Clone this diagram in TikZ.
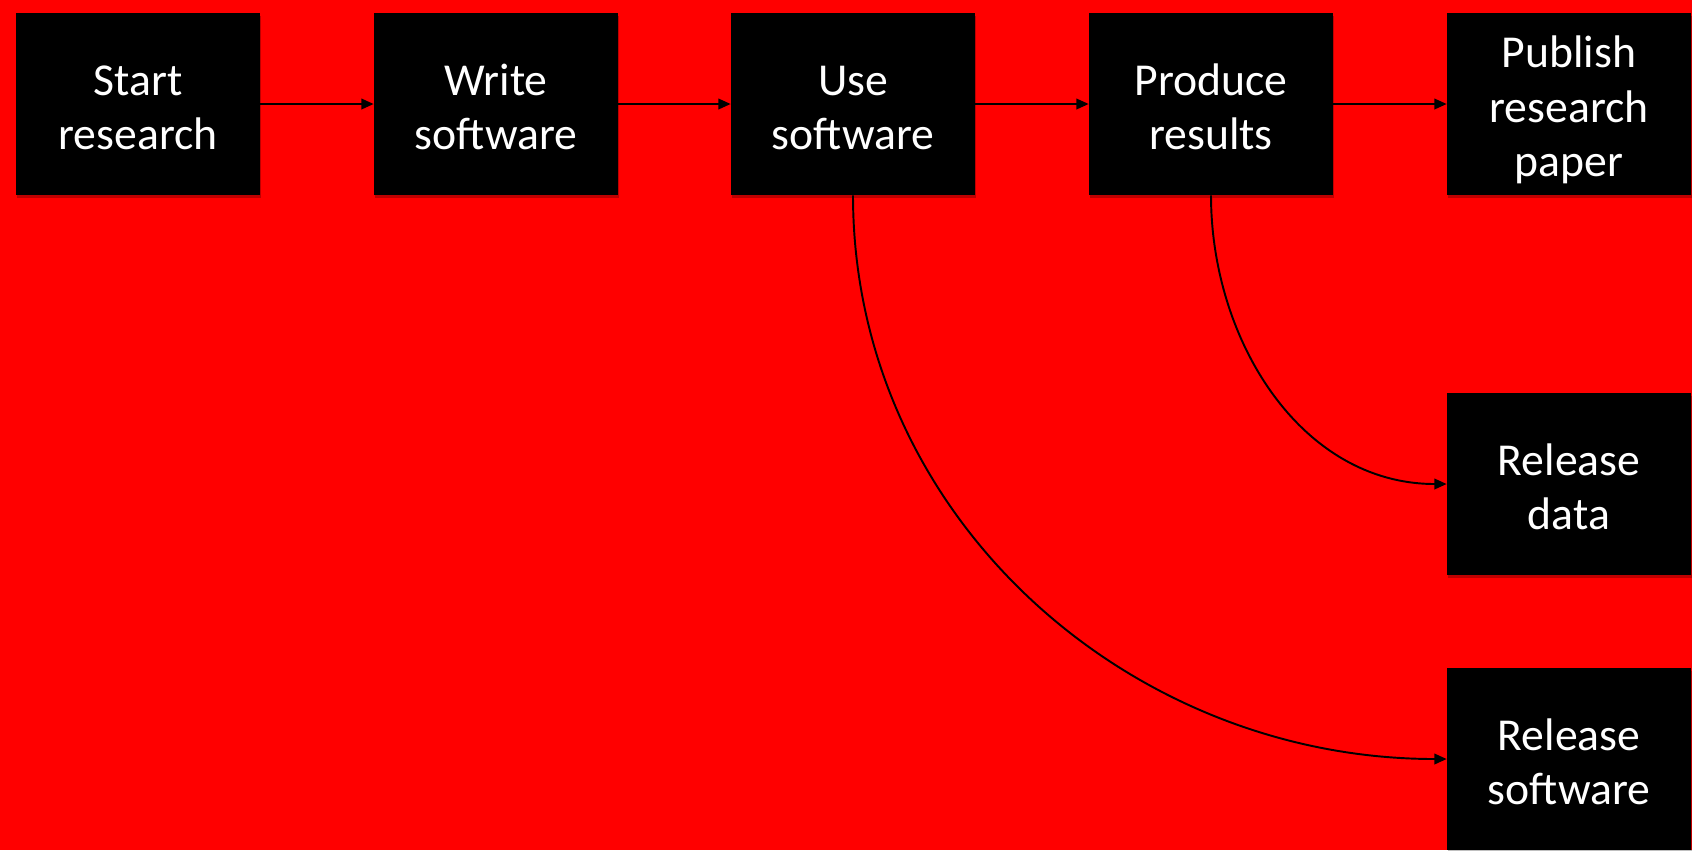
\documentclass[tikz,border=0pt]{standalone}
\usepackage{fontspec}
\setmainfont{Carlito}
\usepackage{tikz}
\usetikzlibrary{calc,arrows.meta,shadows}
\definecolor{slidered}{RGB}{255,0,0}
\tikzstyle{block} = [fill=black, text=white, rectangle, inner sep=0pt,
    minimum height=3.64cm, minimum width=4.88cm, text width=4.88cm, align=center,
    font=\fontsize{26}{31}\selectfont,
    execute at begin node={\rule{0pt}{26pt}},
    execute at end node={\rule[-5pt]{0pt}{5pt}},
    drop shadow={shadow xshift=0.6pt, shadow yshift=-1.5pt, fill=black, opacity=0.25}]
\tikzstyle{flow} = [-{Triangle[length=7pt,width=6pt]}, line width=1.1pt]

\begin{document}
\begin{tikzpicture}[x=0.02cm, y=-0.02cm]
%% Background %%
\fill[slidered] (0,0) rectangle (1692,850);
\useasboundingbox (0,0) rectangle (1692,850);

%% Main row %%
\node [block] (StartResearch) at (138,104) {Start\\research};
\node [block] (WriteSoftware) at ($(StartResearch)+(358,0)$) {Write\\software};
\node [block] (UseSoftware) at ($(WriteSoftware)+(357,0)$) {Use\\software};
\node [block] (ProduceResults) at ($(UseSoftware)+(358,0)$) {Produce\\results};
\node [block] (PublishPaper) at ($(ProduceResults)+(358,0)$) {Publish\\research\\paper};

%% Releases %%
\node [block] (ReleaseData) at ($(PublishPaper)+(0,380)$) {Release\\data};
\node [block] (ReleaseSoftware) at ($(PublishPaper)+(0,655)$) {Release\\software};

%% Forbindelse %%
\draw[flow] (StartResearch) -- (WriteSoftware);
\draw[flow] (WriteSoftware) -- (UseSoftware);
\draw[flow] (UseSoftware) -- (ProduceResults);
\draw[flow] (ProduceResults) -- (PublishPaper);
\draw[flow] (ProduceResults.south) to[out=-90, in=180] (ReleaseData.west);
\draw[flow] (UseSoftware.south) to[out=-90, in=180] (ReleaseSoftware.west);
\end{tikzpicture}
\end{document}
